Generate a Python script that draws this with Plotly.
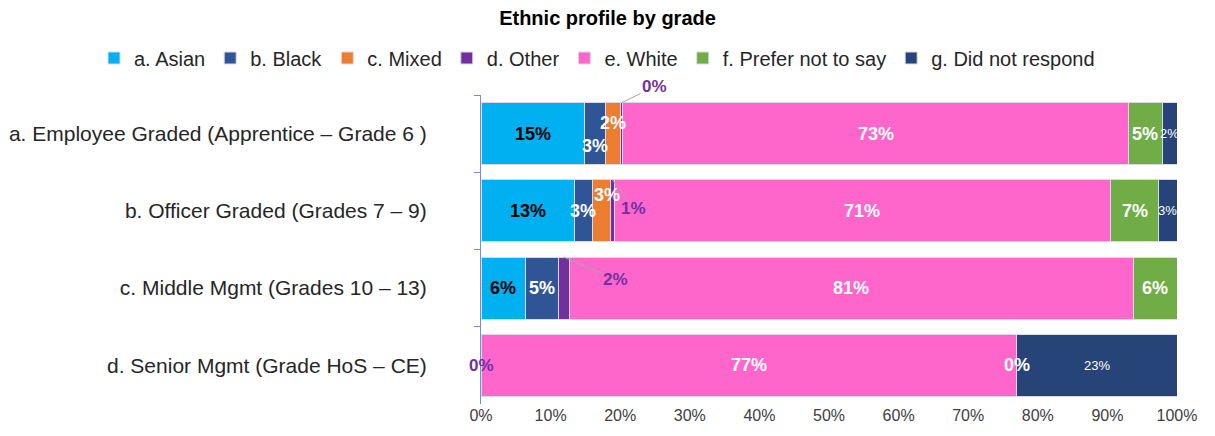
import plotly.graph_objects as go

# ---------------- data ----------------
categories = [
    "a. Employee Graded (Apprentice – Grade 6 )",
    "b. Officer Graded (Grades 7 – 9)",
    "c. Middle Mgmt (Grades 10 – 13)",
    "d. Senior Mgmt (Grade HoS – CE)",
]
series_names = ["a. Asian", "b. Black", "c. Mixed", "d. Other", "e. White",
                "f. Prefer not to say", "g. Did not respond"]
asian = [14.9, 13.4, 6.4, 0.0]
black = [3.0, 2.6, 4.7, 0.0]
mixed = [2.1, 2.6, 0.0, 0.0]
other = [0.4, 0.6, 1.6, 0.0]
white = [72.6, 71.2, 81.0, 77.0]
prefer = [4.9, 7.0, 6.3, 0.0]
no_response = [2.1, 2.6, 0.0, 23.0]
x_ticks = [0, 10, 20, 30, 40, 50, 60, 70, 80, 90, 100]
x_tick_labels = ["0%", "10%", "20%", "30%", "40%", "50%", "60%", "70%", "80%", "90%", "100%"]

series_values = [asian, black, mixed, other, white, prefer, no_response]

# ---------------- styles ----------------
colors = ["#00B0F0", "#2F5597", "#ED7D31", "#7030A0", "#FF66CC", "#70AD47", "#264478"]
label_colors = ["#000000", "#FFFFFF", "#FFFFFF", "#7030A0", "#FFFFFF", "#FFFFFF", "#FFFFFF"]
label_bold = [True, True, True, True, True, True, False]
label_size = [18, 18, 18, 17, 18, 18, 13]
FONT = "Liberation Sans, Arial, sans-serif"

W, H = 1215, 436
L, R, T, B = 481, 38, 95, 32
plot_h = H - T - B

# pixel offsets for individual labels: (series index, row index) -> (xshift, yshift)
shifts = {(1, 0): (0, -12), (2, 0): (0, 11), (2, 1): (6, 16)}
# leader-line labels for "Other": row -> (ax, ay) pixel offset of text from bar top edge
leaders = {0: (33, -16), 1: (21, 29), 2: (52, 22)}

fig = go.Figure()
for name, vals, col in zip(series_names, series_values, colors):
    fig.add_trace(go.Bar(
        y=categories, x=vals, name=name, orientation="h",
        marker=dict(color=col, line=dict(color="#DADAE6", width=1)),
        hoverinfo="x+name",
    ))

annotations = []
for r in range(len(categories)):
    start = 0.0
    for s, vals in enumerate(series_values):
        v = vals[r]
        mid = start + v / 2.0
        start += v
        if not (v > 0 or s in (3, 5)):
            continue
        txt = f"{v:.0f}%"
        font = dict(family=FONT, size=label_size[s], color=label_colors[s],
                    weight="bold" if label_bold[s] else "normal")
        if s == 3 and r in leaders:
            ax, ay = leaders[r]
            annotations.append(dict(
                x=mid, y=r - 0.4, xref="x", yref="y", text=txt, font=font,
                showarrow=True, arrowhead=0, arrowwidth=1, arrowcolor="#A6A6A6",
                ax=ax, ay=ay, standoff=0, startstandoff=0,
            ))
        else:
            xs, ys = shifts.get((s, r), (0, 0))
            annotations.append(dict(
                x=mid, y=r, xref="x", yref="y", text=txt, font=font,
                showarrow=False, xshift=xs, yshift=ys,
            ))

fig.update_layout(
    barmode="stack",
    bargap=0.2,
    width=W, height=H,
    margin=dict(l=L, r=R, t=T, b=B, autoexpand=False),
    paper_bgcolor="white", plot_bgcolor="white",
    font=dict(family=FONT, color="#262626"),
    title=dict(text="Ethnic profile by grade", x=0.5, xanchor="center",
               xref="container", y=1 - 18 / H, yanchor="middle", yref="container",
               font=dict(family=FONT, size=20, color="#000000", weight="bold")),
    legend=dict(orientation="h", x=(94 - L) / (W - L - R), xanchor="left", xref="paper",
                y=1 + (T - 58) / plot_h, yanchor="middle", yref="paper",
                font=dict(family=FONT, size=20, color="#262626"),
                itemwidth=30, traceorder="normal"),
    annotations=annotations,
    showlegend=True,
)
fig.update_xaxes(range=[0, 100], tickmode="array", tickvals=x_ticks, ticktext=x_tick_labels,
                 showgrid=False, zeroline=False, showline=False, ticks="",
                 tickfont=dict(family=FONT, size=16, color="#404040"))
fig.update_yaxes(type="category", autorange="reversed", showline=True,
                 linecolor="#6F8FD8", linewidth=1, ticks="outside", tickson="boundaries",
                 ticklen=6, tickcolor="#6F8FD8", showgrid=False,
                 ticklabelstandoff=49,
                 tickfont=dict(family=FONT, size=21, color="#262626"))

fig.write_html("out.html", config={"displayModeBar": False},
               post_script="document.body.style.margin='0';document.body.style.overflow='hidden';")
